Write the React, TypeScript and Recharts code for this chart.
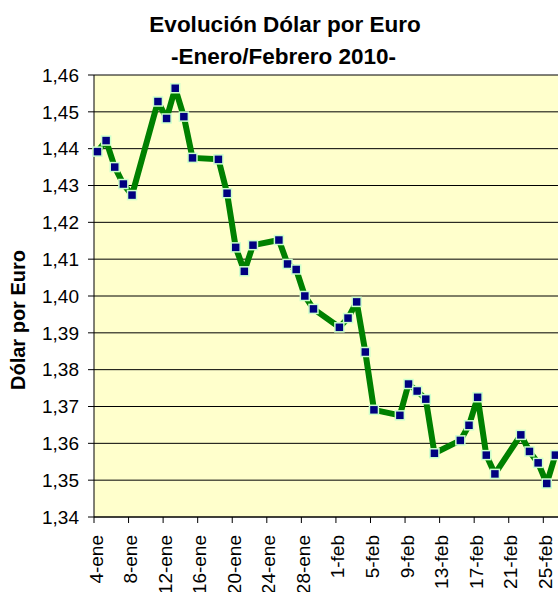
import { LineChart, Line, XAxis, YAxis, CartesianGrid } from 'recharts'

const dates = [
  '2010-01-04', '2010-01-05', '2010-01-06', '2010-01-07', '2010-01-08',
  '2010-01-11', '2010-01-12', '2010-01-13', '2010-01-14', '2010-01-15',
  '2010-01-18', '2010-01-19', '2010-01-20', '2010-01-21', '2010-01-22',
  '2010-01-25', '2010-01-26', '2010-01-27', '2010-01-28', '2010-01-29',
  '2010-02-01', '2010-02-02', '2010-02-03', '2010-02-04', '2010-02-05',
  '2010-02-08', '2010-02-09', '2010-02-10', '2010-02-11', '2010-02-12',
  '2010-02-15', '2010-02-16', '2010-02-17', '2010-02-18', '2010-02-19',
  '2010-02-22', '2010-02-23', '2010-02-24', '2010-02-25', '2010-02-26',
]

const rates = [
  1.4392, 1.4422, 1.435, 1.4304, 1.4274,
  1.4528, 1.4482, 1.4564, 1.4487, 1.4375,
  1.4371, 1.4279, 1.4132, 1.4067, 1.4138,
  1.4152, 1.4087, 1.4072, 1.4, 1.3965,
  1.3915, 1.394, 1.3984, 1.3848, 1.3691,
  1.3676, 1.3761, 1.3742, 1.372, 1.3573,
  1.3608, 1.3649, 1.3725, 1.3568, 1.3517,
  1.3623, 1.3578, 1.3547, 1.3491, 1.3568,
]

const tickLabels = [
  '4-ene', '8-ene', '12-ene', '16-ene', '20-ene', '24-ene', '28-ene',
  '1-feb', '5-feb', '9-feb', '13-feb', '17-feb', '21-feb', '25-feb',
]

const yTicks = [1.34, 1.35, 1.36, 1.37, 1.38, 1.39, 1.4, 1.41, 1.42, 1.43, 1.44, 1.45, 1.46]

const start = Date.UTC(2010, 0, 4)
const dayOf = (s: string) => {
  const [y, m, d] = s.split('-').map(Number)
  return Math.round((Date.UTC(y, m - 1, d) - start) / 86400000)
}

// excel date axis puts each point in the middle of its day slot
const data = dates.map((d, i) => ({ day: dayOf(d) + 0.4, rate: rates[i] }))
const xTicks = tickLabels.map((_, i) => i * 4)

const font = '"Liberation Sans", Arial, sans-serif'

function XTick({ x, y, payload }: any) {
  const label = tickLabels[Math.round(payload.value / 4)] ?? ''
  return (
    <text
      transform={`translate(${x + 8.5},${y + 12}) rotate(-90)`}
      textAnchor="end"
      fontSize={19}
      fontFamily={font}
      fill="#000"
    >
      {label}
    </text>
  )
}

function Marker({ cx, cy, index }: any) {
  return (
    <rect
      key={index}
      x={cx - 4.5}
      y={cy - 4.5}
      width={9}
      height={9}
      fill="#000080"
      stroke="#CCFFCC"
      strokeWidth={1.5}
    />
  )
}

export default function App() {
  // the original picture is cropped on the right and bottom, so clip to the window
  return (
    <div style={{ position: 'fixed', left: 0, top: 0, width: 558, height: 592, overflow: 'hidden', background: '#fff' }}>
      <div style={{ position: 'absolute', left: 8, top: 8 }}>
        <LineChart width={600} height={600} data={data} margin={{ top: 67, right: 21.5, bottom: 16, left: 0 }}>
          <CartesianGrid vertical={false} stroke="#000" fill="#FFFFCC" fillOpacity={1} />
          <XAxis
            dataKey="day"
            type="number"
            domain={[0, 57]}
            ticks={xTicks}
            interval={0}
            height={75}
            tickSize={6}
            tickMargin={0}
            stroke="#000"
            tick={<XTick />}
          />
          <YAxis
            type="number"
            domain={[1.34, 1.46]}
            ticks={yTicks}
            interval={0}
            width={86}
            tickSize={6}
            tickMargin={9}
            stroke="#000"
            tick={{ fontSize: 19, fontFamily: font, fill: '#000' }}
            tickFormatter={(v: number) => v.toFixed(2).replace('.', ',')}
          />
          <Line
            type="linear"
            dataKey="rate"
            stroke="#008000"
            strokeWidth={6}
            strokeLinejoin="round"
            dot={<Marker />}
            isAnimationActive={false}
          />
        </LineChart>
        <svg width={550} height={584} style={{ position: 'absolute', left: 0, top: 0, pointerEvents: 'none' }}>
          <text x={277} y={24} textAnchor="middle" fontSize={22.5} fontWeight="bold" fontFamily={font}>
            Evolución Dólar por Euro
          </text>
          <text x={275.5} y={56} textAnchor="middle" fontSize={22.5} fontWeight="bold" fontFamily={font}>
            -Enero/Febrero 2010-
          </text>
          <text
            transform="translate(16.5,312) rotate(-90)"
            textAnchor="middle"
            fontSize={20}
            fontWeight="bold"
            fontFamily={font}
          >
            Dólar por Euro
          </text>
        </svg>
      </div>
    </div>
  )
}
